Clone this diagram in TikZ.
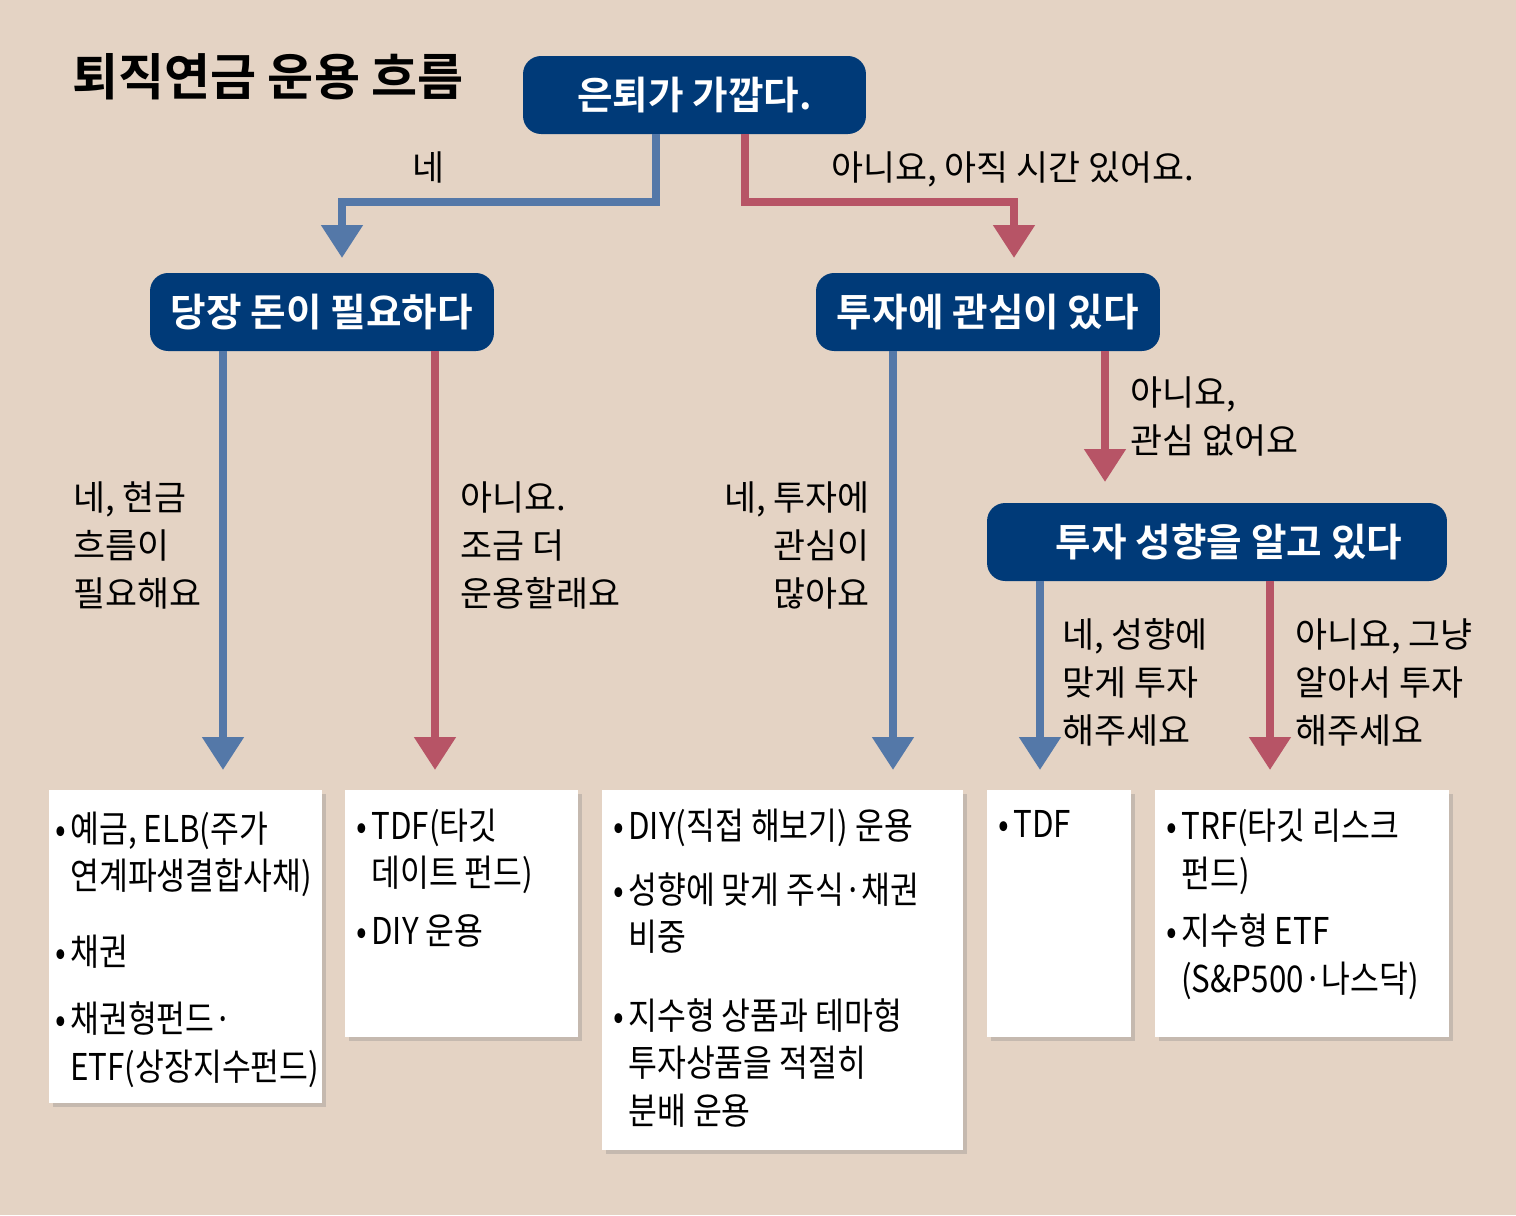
\documentclass[tikz,border=0pt]{standalone}
\usepackage{fontspec}
\setmainfont{Noto Sans CJK KR}[BoldFont={Noto Sans CJK KR Bold}]
\newfontfamily\narrowfont[FakeStretch=0.85]{Noto Sans CJK KR}
\usetikzlibrary{arrows.meta,shadows,positioning}

\definecolor{bgbeige}{HTML}{E4D3C4}
\definecolor{navy}{HTML}{003A78}
\definecolor{yesblue}{HTML}{5478A8}
\definecolor{nored}{HTML}{B75466}

\newcommand\itemdot{\makebox[0.3cm][l]{•}}
\newcommand\itemcont{\hspace*{0.3cm}}

\begin{document}
\begin{tikzpicture}[x=0.02cm,y=-0.02cm,
  question/.style={rectangle,rounded corners=0.36cm,fill=navy,text=white,inner sep=0pt,
    minimum height=1.56cm,font=\bfseries\fontsize{22pt}{26pt}\selectfont},
  answer/.style={inner sep=0pt,align=left,font=\fontsize{19.8pt}{0.96cm}\selectfont},
  result/.style={rectangle,fill=white,inner sep=0pt,anchor=north west,
    drop shadow={shadow xshift=0.07cm,shadow yshift=-0.07cm,opacity=0.3}},
  resulttext/.style={inner sep=0pt,anchor=base west,align=left,
    font=\narrowfont\fontsize{21pt}{0.95cm}\selectfont},
  yesline/.style={draw=yesblue,line width=0.16cm,-{Triangle[length=0.66cm,width=0.8cm]}},
  noline/.style={yesline,draw=nored}]

  \fill[bgbeige] (0,0) rectangle (1516,1215);

  % title
  \node[anchor=west,inner sep=0pt,font=\bfseries\fontsize{28.5pt}{32pt}\selectfont] (title) at (72,77) {퇴직연금 운용 흐름};

  % questions
  \node[question,minimum width=6.86cm] (retire) at (694.5,95) {은퇴가 가깝다.};
  \node[question,minimum width=6.88cm] (money) at (322,312) {당장 돈이 필요하다};
  \node[question,minimum width=6.88cm] (invest) at (988,312) {투자에 관심이 있다};
  \node[question,minimum width=9.2cm] (profile) at (1217,542) {\hspace*{0.48cm}투자 성향을 알고 있다};

  % results
  \node[result,minimum width=5.46cm,minimum height=6.26cm] (cash) at (49,790) {};
  \node[result,minimum width=4.66cm,minimum height=4.94cm] (tdfdiy) at (345,790) {};
  \node[result,minimum width=7.22cm,minimum height=7.2cm] (diy) at (602,790) {};
  \node[result,minimum width=2.88cm,minimum height=4.94cm] (tdf) at (987,790) {};
  \node[result,minimum width=5.88cm,minimum height=4.94cm] (trf) at (1155,790) {};

  % base = last line
  \node[resulttext] (cashtext) at (55,1080) {\itemdot 예금, ELB(주가\\
    \itemcont 연계파생결합사채)\\[0.56cm]
    \itemdot 채권\\[0.40cm]
    \itemdot 채권형펀드·\\
    \itemcont ETF(상장지수펀드)};
  \node[resulttext] (tdfdiytext) at (356,944) {\itemdot TDF(타깃\\
    \itemcont 데이트 펀드)\\[0.2cm]
    \itemdot DIY 운용};
  \node[resulttext] (diytext) at (613,1124) {\itemdot DIY(직접 해보기) 운용\\[0.32cm]
    \itemdot 성향에 맞게 주식·채권\\
    \itemcont 비중\\[0.62cm]
    \itemdot 지수형 상품과 테마형\\
    \itemcont 투자상품을 적절히\\
    \itemcont 분배 운용};
  \node[resulttext] (tdftext) at (998,837) {\itemdot TDF};
  \node[resulttext] (trftext) at (1166,992) {\itemdot TRF(타깃 리스크\\
    \itemcont 펀드)\\[0.2cm]
    \itemdot 지수형 ETF\\
    \itemcont (S\&P500·나스닥)};

  % connectors
  \coordinate (yesbend) at (656,202);
  \coordinate (nobend) at (745,202);
  \coordinate (yesend) at (342,258);
  \coordinate (noend) at (1014,258);
  \coordinate (cashend) at (223,770);
  \coordinate (tdfdiyend) at (435,770);
  \coordinate (diyend) at (893,770);
  \coordinate (profileend) at (1105,482);
  \coordinate (tdfend) at (1040,770);
  \coordinate (trfend) at (1270,770);

  \draw[yesline] (retire.south -| yesbend) -- (yesbend) -| (yesend);
  \draw[noline] (retire.south -| nobend) -- (nobend) -| (noend);
  \draw[yesline] (money.south -| cashend) -- (cashend);
  \draw[noline] (money.south -| tdfdiyend) -- (tdfdiyend);
  \draw[yesline] (invest.south -| diyend) -- (diyend);
  \draw[noline] (invest.south -| profileend) -- (profileend);
  \draw[yesline] (profile.south -| tdfend) -- (tdfend);
  \draw[noline] (profile.south -| trfend) -- (trfend);

  % answers (base = last line)
  \node[answer,anchor=base] (yes1) at (428,180) {네};
  \node[answer,anchor=base west] (no1) at (831,180) {아니요, 아직 시간 있어요.};
  \node[answer,anchor=base west] (yes2) at (73,606) {네, 현금\\흐름이\\필요해요};
  \node[answer,anchor=base west] (no2) at (460,606) {아니요.\\조금 더\\운용할래요};
  \node[answer,anchor=base east,align=right] (yes3) at (870,606) {네, 투자에\\관심이\\많아요};
  \node[answer,anchor=base west] (no3) at (1130,453) {아니요,\\관심 없어요};
  \node[answer,anchor=base west] (yes4) at (1062,743) {네, 성향에\\맞게 투자\\해주세요};
  \node[answer,anchor=base west] (no4) at (1295,743) {아니요, 그냥\\알아서 투자\\해주세요};
\end{tikzpicture}
\end{document}
